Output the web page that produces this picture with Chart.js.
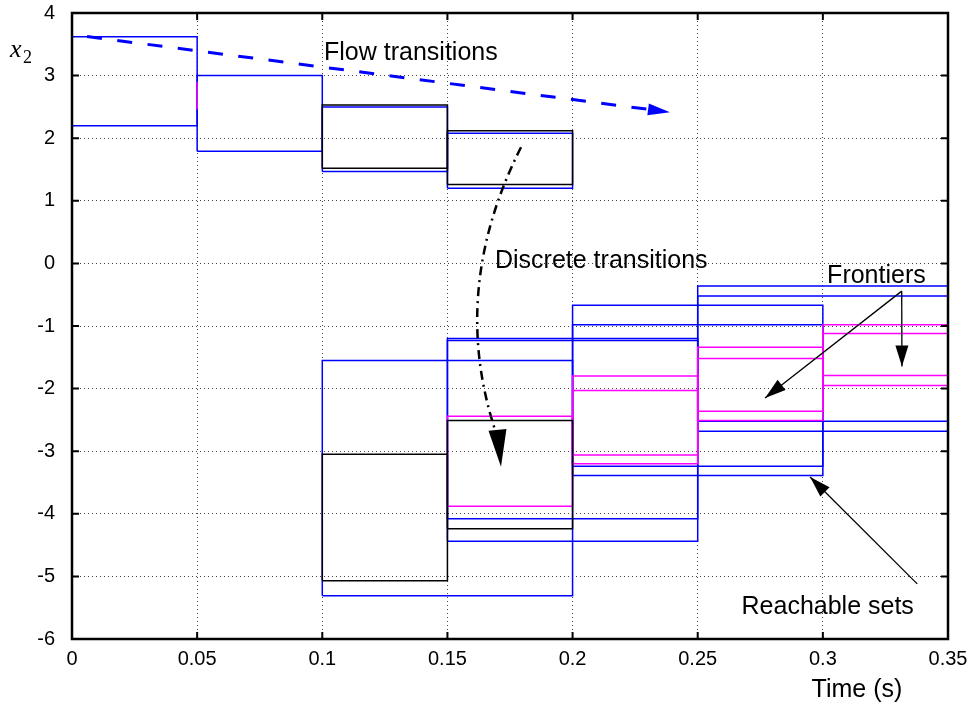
<!DOCTYPE html>
<html>
<head>
<meta charset="utf-8">
<script src="https://cdn.jsdelivr.net/npm/chart.js@4.4.0/dist/chart.umd.min.js"></script>
<style>
  html, body { margin: 0; padding: 0; background: #fff; }
  canvas { display: block; }
</style>
</head>
<body>
<canvas id="reachChart" width="978" height="711"></canvas>
<script>
// 구간별 집합: [t0, t1, 아래, 위]
const reachableSets = [
    [0, 0.05, 2.20, 3.62],
    [0.05, 0.1, 1.79, 3.00],
    [0.1, 0.15, 1.47, 2.50],
    [0.15, 0.2, 1.20, 2.08],
    [0.1, 0.2, -5.31, -1.55],
    [0.15, 0.25, -4.44, -1.20],
    [0.15, 0.25, -4.08, -1.23],
    [0.2, 0.3, -3.39, -0.67],
    [0.2, 0.3, -3.24, -0.98],
    [0.25, 0.35, -2.68, -0.36],
    [0.25, 0.35, -2.52, -0.52]
];
const blackSets = [
    [0.1, 0.15, 1.52, 2.53],
    [0.15, 0.2, 1.26, 2.12],
    [0.1, 0.15, -5.07, -3.05],
    [0.15, 0.2, -4.24, -2.51]
];
const frontierSets = [
    [0.05, 0.05, 2.46, 2.90],
    [0.15, 0.2, -3.88, -2.44],
    [0.2, 0.25, -3.20, -1.80],
    [0.2, 0.25, -3.06, -2.03],
    [0.25, 0.3, -2.51, -1.34],
    [0.25, 0.3, -2.36, -1.52],
    [0.3, 0.35, -1.95, -0.98],
    [0.3, 0.35, -1.79, -1.12]
];
const xTicks = [0, 0.05, 0.1, 0.15, 0.2, 0.25, 0.3, 0.35];
const yTicks = [-6, -5, -4, -3, -2, -1, 0, 1, 2, 3, 4];

// 주석 (데이터 좌표)
const flowArrow = [[0.006, 3.624], [0.2389, 2.416]];
const discreteCurve = [[0.1794, 1.856], [0.149, -0.552], [0.1714, -3.248]];
const frontierArrows = [
    [[0.3315, -0.443], [0.2769, -2.149]],
    [[0.3315, -0.443], [0.3316, -1.648]]
];
const reachArrow = [[0.3377, -5.12], [0.2949, -3.413]];
const noteTexts = [
    { text: 'Flow transitions', x: 0.1007, y: 3.248 },
    { text: 'Discrete transitions', x: 0.169, y: -0.072 },
    { text: 'Frontiers', x: 0.3017, y: -0.312 },
    { text: 'Reachable sets', x: 0.2675, y: -5.608 }
];

const FONT = '"Liberation Sans", Arial, Helvetica, sans-serif';

function boxData(b) {
    const [t0, t1, lo, hi] = b;
    return [{x: t0, y: lo}, {x: t1, y: lo}, {x: t1, y: hi}, {x: t0, y: hi}, {x: t0, y: lo}];
}

function boxDataset(b, color) {
    return {
        data: boxData(b),
        showLine: true,
        borderColor: color,
        borderWidth: 1.5,
        pointRadius: 0,
        fill: false,
        tension: 0
    };
}

// 앞쪽 데이터셋이 위에 그려짐
const datasets = []
    .concat(blackSets.map(b => boxDataset(b, '#000000')))
    .concat(frontierSets.map(b => boxDataset(b, '#ff00ff')))
    .concat(reachableSets.map(b => boxDataset(b, '#0000ff')));

function arrowHead(ctx, fx, fy, tx, ty, len, half, color) {
    const a = Math.atan2(ty - fy, tx - fx);
    const bx = tx - len * Math.cos(a), by = ty - len * Math.sin(a);
    ctx.save();
    ctx.setLineDash([]);
    ctx.fillStyle = color;
    ctx.beginPath();
    ctx.moveTo(tx, ty);
    ctx.lineTo(bx + half * Math.sin(a), by - half * Math.cos(a));
    ctx.lineTo(bx - half * Math.sin(a), by + half * Math.cos(a));
    ctx.closePath();
    ctx.fill();
    ctx.restore();
}

const annotatePlugin = {
    id: 'annotate',
    afterDraw(chart) {
        const ctx = chart.ctx;
        const xs = chart.scales.x, ys = chart.scales.y;
        const px = v => xs.getPixelForValue(v);
        const py = v => ys.getPixelForValue(v);
        const area = chart.chartArea;

        // 테두리와 안쪽 눈금
        ctx.save();
        ctx.strokeStyle = '#000';
        ctx.lineWidth = 2;
        xTicks.forEach(v => {
            const x = px(v);
            ctx.beginPath();
            ctx.moveTo(x, area.bottom); ctx.lineTo(x, area.bottom - 7);
            ctx.moveTo(x, area.top); ctx.lineTo(x, area.top + 7);
            ctx.stroke();
        });
        yTicks.forEach(v => {
            const y = py(v);
            ctx.beginPath();
            ctx.moveTo(area.left, y); ctx.lineTo(area.left + 7, y);
            ctx.moveTo(area.right, y); ctx.lineTo(area.right - 7, y);
            ctx.stroke();
        });
        ctx.lineWidth = 2.5;
        ctx.strokeRect(area.left, area.top, area.right - area.left, area.bottom - area.top);
        ctx.restore();

        // Flow transitions 화살표
        ctx.save();
        const f0x = px(flowArrow[0][0]), f0y = py(flowArrow[0][1]);
        const f1x = px(flowArrow[1][0]), f1y = py(flowArrow[1][1]);
        const fa = Math.atan2(f1y - f0y, f1x - f0x);
        ctx.strokeStyle = '#0000ff';
        ctx.lineWidth = 3;
        ctx.setLineDash([15, 15.5]);
        ctx.beginPath();
        ctx.moveTo(f0x, f0y);
        ctx.lineTo(f1x - 18 * Math.cos(fa), f1y - 18 * Math.sin(fa));
        ctx.stroke();
        ctx.restore();
        arrowHead(ctx, f0x, f0y, f1x, f1y, 22, 6, '#0000ff');

        // Discrete transitions 곡선 화살표
        ctx.save();
        const [p0, c, p2] = discreteCurve.map(p => [px(p[0]), py(p[1])]);
        ctx.strokeStyle = '#000';
        ctx.lineWidth = 2.5;
        ctx.setLineDash([9, 5, 2, 5]);
        ctx.beginPath();
        ctx.moveTo(p0[0], p0[1]);
        ctx.quadraticCurveTo(c[0], c[1], p2[0], p2[1] - 20);
        ctx.stroke();
        ctx.restore();
        arrowHead(ctx, c[0] + 40, c[1], p2[0], p2[1], 37, 9, '#000');

        // 가는 화살표
        const thin = (a, b) => {
            const ax = px(a[0]), ay = py(a[1]), bx = px(b[0]), by = py(b[1]);
            ctx.save();
            ctx.strokeStyle = '#000';
            ctx.lineWidth = 1.3;
            ctx.beginPath();
            ctx.moveTo(ax, ay);
            ctx.lineTo(bx, by);
            ctx.stroke();
            ctx.restore();
            arrowHead(ctx, ax, ay, bx, by, 21, 6.5, '#000');
        };
        frontierArrows.forEach(a => thin(a[0], a[1]));
        thin(reachArrow[0], reachArrow[1]);

        // 글자
        ctx.save();
        ctx.fillStyle = '#000';
        ctx.textBaseline = 'alphabetic';
        ctx.textAlign = 'left';
        ctx.font = '25px ' + FONT;
        noteTexts.forEach(t => ctx.fillText(t.text, px(t.x), py(t.y)));
        ctx.fillText('Time (s)', px(0.2955), 697);
        ctx.font = 'italic 26px "Liberation Serif", "DejaVu Serif", serif';
        ctx.fillText('x', 10, 57);
        ctx.font = '18px "Liberation Serif", "DejaVu Serif", serif';
        ctx.fillText('2', 23, 63);
        ctx.restore();
    }
};

const ctx = document.getElementById('reachChart').getContext('2d');
window.chart = new Chart(ctx, {
    type: 'scatter',
    data: { datasets: datasets },
    options: {
        responsive: false,
        animation: false,
        events: [],
        layout: { padding: { left: 0, right: 30, top: 13, bottom: 0 } },
        plugins: {
            legend: { display: false },
            tooltip: { enabled: false }
        },
        scales: {
            x: {
                type: 'linear',
                min: 0,
                max: 0.35,
                afterBuildTicks: s => { s.ticks = xTicks.map(v => ({ value: v })); },
                afterFit: s => { s.height = 72; s.paddingLeft = 0; s.paddingRight = 0; },
                grid: { color: '#444', lineWidth: 1, drawTicks: false },
                border: { display: false, dash: [1, 3] },
                ticks: {
                    padding: 8,
                    color: '#000',
                    maxRotation: 0,
                    autoSkip: false,
                    font: { family: FONT, size: 20 },
                    callback: v => String(+v.toFixed(2))
                }
            },
            y: {
                type: 'linear',
                min: -6,
                max: 4,
                afterBuildTicks: s => { s.ticks = yTicks.map(v => ({ value: v })); },
                afterFit: s => { s.width = 72; s.paddingTop = 0; s.paddingBottom = 0; },
                grid: { color: '#444', lineWidth: 1, drawTicks: false },
                border: { display: false, dash: [1, 3] },
                ticks: {
                    padding: 17,
                    color: '#000',
                    autoSkip: false,
                    font: { family: FONT, size: 20 },
                    callback: v => String(v)
                }
            }
        }
    },
    plugins: [annotatePlugin]
});
</script>
</body>
</html>
